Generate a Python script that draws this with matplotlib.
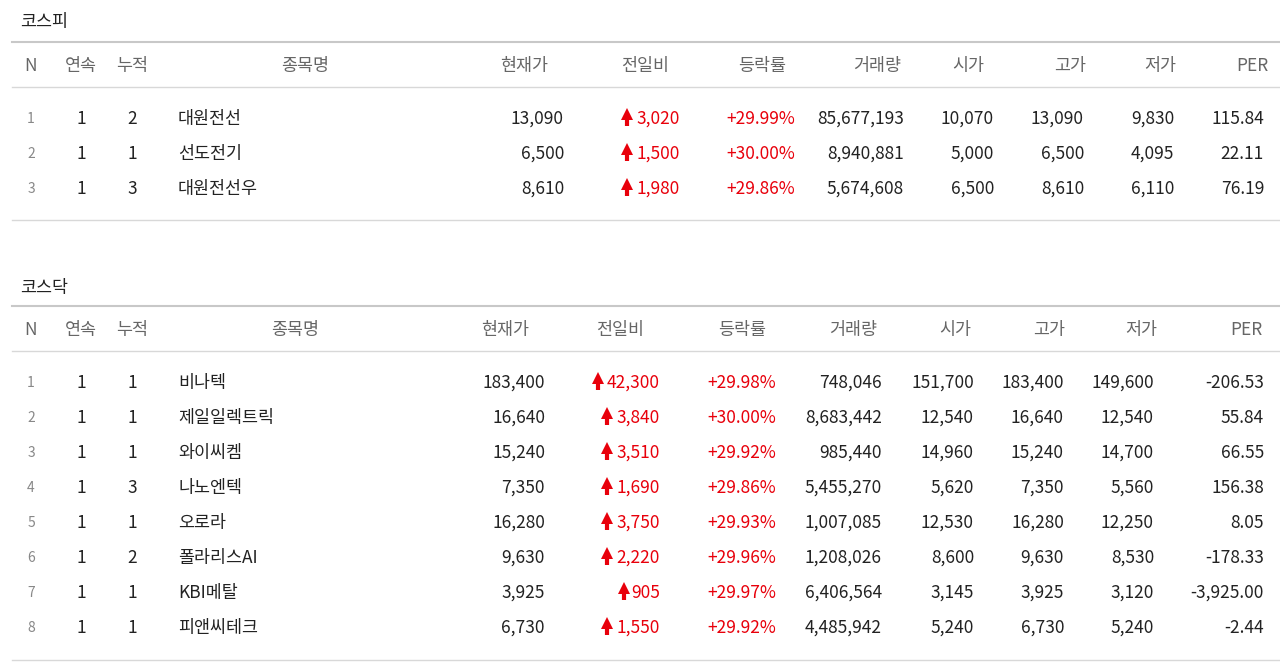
import matplotlib
matplotlib.use("Agg")
import matplotlib.pyplot as plt

plt.rcParams['font.family'] = ['Noto Sans CJK KR', 'DejaVu Sans']

headers = ["N", "연속", "누적", "종목명", "현재가", "전일비", "등락률", "거래량", "시가", "고가", "저가", "PER"]

kospi_streak = [1, 1, 1]
kospi_cum = [2, 1, 3]
kospi_names = ["대원전선", "선도전기", "대원전선우"]
kospi_price = ["13,090", "6,500", "8,610"]
kospi_chg = ["3,020", "1,500", "1,980"]
kospi_rate = ["+29.99%", "+30.00%", "+29.86%"]
kospi_vol = ["85,677,193", "8,940,881", "5,674,608"]
kospi_open = ["10,070", "5,000", "6,500"]
kospi_high = ["13,090", "6,500", "8,610"]
kospi_low = ["9,830", "4,095", "6,110"]
kospi_per = ["115.84", "22.11", "76.19"]

kosdaq_streak = [1, 1, 1, 1, 1, 1, 1, 1]
kosdaq_cum = [1, 1, 1, 3, 1, 2, 1, 1]
kosdaq_names = ["비나텍", "제일일렉트릭", "와이씨켐", "나노엔텍", "오로라", "폴라리스AI", "KBI메탈", "피앤씨테크"]
kosdaq_price = ["183,400", "16,640", "15,240", "7,350", "16,280", "9,630", "3,925", "6,730"]
kosdaq_chg = ["42,300", "3,840", "3,510", "1,690", "3,750", "2,220", "905", "1,550"]
kosdaq_rate = ["+29.98%", "+30.00%", "+29.92%", "+29.86%", "+29.93%", "+29.96%", "+29.97%", "+29.92%"]
kosdaq_vol = ["748,046", "8,683,442", "985,440", "5,455,270", "1,007,085", "1,208,026", "6,406,564", "4,485,942"]
kosdaq_open = ["151,700", "12,540", "14,960", "5,620", "12,530", "8,600", "3,145", "5,240"]
kosdaq_high = ["183,400", "16,640", "15,240", "7,350", "16,280", "9,630", "3,925", "6,730"]
kosdaq_low = ["149,600", "12,540", "14,700", "5,560", "12,250", "8,530", "3,120", "5,240"]
kosdaq_per = ["-206.53", "55.84", "66.55", "156.38", "8.05", "-178.33", "-3,925.00", "-2.44"]

W, H = 1280, 667
fig = plt.figure(figsize=(12.8, 6.67), dpi=100)
ax = fig.add_axes([0, 0, 1, 1])
ax.set_xlim(0, W); ax.set_ylim(H, 0); ax.axis('off')

RED = "#e8000b"
TXT = "#222222"
GRAY = "#666666"
FS = 12.5

def t(x, y, s, ha='center', color=TXT, fs=FS):
    ax.text(x, y, s, ha=ha, va='center', color=color, fontsize=fs)

def table(title, ty, ltop, hy, lhead, rows_y, lbot, hdr_x, val_x, data):
    t(20, ty, title, ha='left', fs=12.5)
    ax.plot([12, 1280], [ltop, ltop], color="#c8c8c8", lw=1.5)
    ax.plot([12, 1280], [lhead, lhead], color="#d8d8d8", lw=1)
    ax.plot([12, 1280], [lbot, lbot], color="#d8d8d8", lw=1)
    for i, h in enumerate(headers):
        ha = 'right' if h == "PER" else 'center'
        t(hdr_x[i], hy, h, ha=ha, color=GRAY)
    streak, cum, names, price, chg, rate, vol, op, hi, lo, per = data
    for r, y in enumerate(rows_y):
        t(31, y, str(r + 1), color="#888888", fs=10)
        t(81, y, str(streak[r]))
        t(132, y, str(cum[r]))
        t(178, y, names[r], ha='left')
        t(val_x[0], y, price[r], ha='right')
        t(val_x[1], y, chg[r], ha='right', color=RED)
        ax_x = val_x[1] - len(chg[r]) * 8.9 - 9
        ax.plot([ax_x, ax_x], [y - 2, y + 7], color=RED, lw=3, solid_capstyle='butt')
        ax.plot([ax_x], [y - 5], marker='^', color=RED, markersize=9, markeredgewidth=0)
        t(val_x[2], y, rate[r], ha='right', color=RED)
        t(val_x[3], y, vol[r], ha='right')
        t(val_x[4], y, op[r], ha='right')
        t(val_x[5], y, hi[r], ha='right')
        t(val_x[6], y, lo[r], ha='right')
        t(val_x[7], y, per[r], ha='right')

table("코스피", 22, 42, 66, 87, [119, 154, 189], 220,
      [31, 81, 132, 305, 524, 645, 762, 877, 968, 1070, 1160, 1268],
      [564, 680, 795, 904, 994, 1084, 1174, 1264],
      (kospi_streak, kospi_cum, kospi_names, kospi_price, kospi_chg, kospi_rate,
       kospi_vol, kospi_open, kospi_high, kospi_low, kospi_per))

table("코스닥", 288, 306, 330, 351, [383, 418, 453, 488, 523, 558, 593, 628], 660,
      [31, 81, 132, 295, 505, 620, 742, 853, 955, 1049, 1141, 1262],
      [545, 660, 776, 882, 974, 1064, 1154, 1264],
      (kosdaq_streak, kosdaq_cum, kosdaq_names, kosdaq_price, kosdaq_chg, kosdaq_rate,
       kosdaq_vol, kosdaq_open, kosdaq_high, kosdaq_low, kosdaq_per))

fig.savefig("out.png", dpi=100)
